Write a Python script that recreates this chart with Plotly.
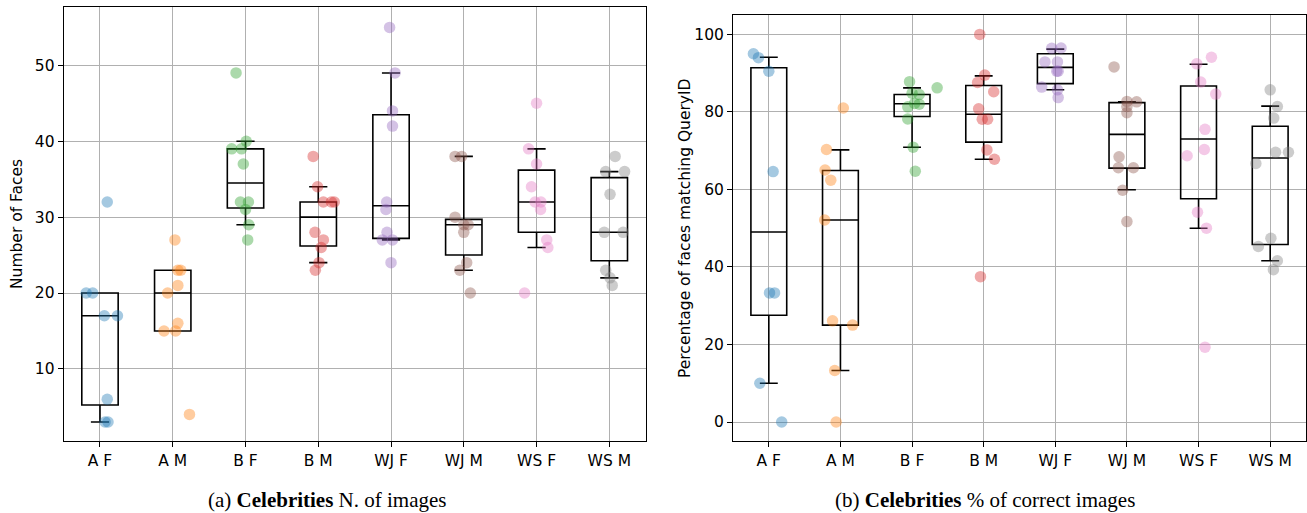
import plotly.graph_objects as go

# ---------------- data ----------------
categories = ["A F", "A M", "B F", "B M", "WJ F", "WJ M", "WS F", "WS M"]
colors = ["#1f77b4", "#ff7f0e", "#2ca02c", "#d62728",
          "#9467bd", "#8c564b", "#e377c2", "#7f7f7f"]

# (a) number of faces per celebrity
faces_points = [
    [20, 20, 32, 17, 17, 6, 3, 3],
    [27, 23, 23, 21, 20, 16, 15, 15, 4],
    [49, 40, 39, 39, 37, 32, 32, 31, 29, 27],
    [38, 34, 32, 32, 32, 28, 27, 26, 24, 23],
    [55, 49, 44, 42, 32, 31, 28, 27, 27, 24],
    [38, 38, 30, 29, 29, 28, 24, 23, 20],
    [45, 39, 37, 34, 32, 32, 31, 27, 26, 20],
    [38, 36, 36, 33, 28, 28, 23, 22, 21],
]
faces_jitter = [
    [-0.19, -0.10, 0.10, 0.06, 0.24, 0.10, 0.07, 0.11],
    [0.03, 0.07, 0.11, 0.07, -0.07, 0.07, -0.12, 0.04, 0.23],
    [-0.13, 0.01, -0.19, -0.055, -0.03, -0.07, 0.04, 0.0, 0.045, 0.03],
    [-0.07, -0.01, 0.07, 0.18, 0.22, -0.045, 0.07, 0.04, 0.01, -0.04],
    [-0.02, 0.055, 0.02, 0.02, -0.06, -0.07, -0.055, -0.12, 0.02, 0.0],
    [-0.12, -0.03, -0.12, 0.0, 0.06, 0.0, 0.04, -0.055, 0.09],
    [0.0, -0.11, 0.0, -0.07, -0.02, 0.06, 0.055, 0.14, 0.155, -0.165],
    [0.08, 0.21, -0.05, 0.01, -0.07, 0.19, -0.05, 0.01, 0.04],
]
faces_q1 = [5.25, 15, 31.2, 26.2, 27.2, 25, 28, 24.25]
faces_med = [17, 20, 34.5, 30, 31.5, 29, 32, 28]
faces_q3 = [20, 23, 39, 32, 43.5, 29.7, 36.2, 35.2]
faces_lo = [3, 15, 29, 24, 27, 23, 26, 22]
faces_hi = [20, 23, 40, 34, 49, 38, 39, 36]

# (b) percentage of faces matching QueryID
pct_points = [
    [95, 94, 90.5, 64.6, 33.3, 33.3, 10, 0],
    [81, 70.3, 65, 62.4, 52.1, 26.1, 25, 13.3, 0],
    [87.8, 86.2, 84.8, 84.5, 82.2, 81.3, 82.0, 78.2, 70.9, 64.7],
    [100, 89.5, 87.6, 85.2, 80.8, 78.1, 78.1, 70.2, 67.8, 37.5],
    [96.4, 96.5, 92.9, 92.9, 90.5, 90.5, 86.4, 85.7, 83.7],
    [91.6, 82.7, 82.6, 81.4, 79.8, 68.4, 65.6, 65.6, 59.8, 51.7],
    [94.1, 92.4, 87.7, 84.6, 75.5, 70.3, 68.7, 54.1, 50.0, 19.3],
    [85.7, 81.4, 78.4, 69.6, 69.6, 66.7, 47.4, 45.3, 41.6, 39.3],
]
pct_jitter = [
    [-0.215, -0.145, 0.0, 0.06, 0.01, 0.08, -0.125, 0.18],
    [0.04, -0.195, -0.215, -0.135, -0.22, -0.11, 0.17, -0.08, -0.06],
    [-0.035, 0.35, 0.0, 0.1, 0.035, -0.06, 0.1, -0.06, 0.015, 0.045],
    [-0.055, 0.015, -0.085, 0.14, -0.07, -0.02, 0.055, 0.045, 0.15, -0.045],
    [-0.05, 0.08, -0.145, 0.03, 0.02, 0.04, -0.19, 0.03, 0.04],
    [-0.18, 0.0, 0.135, 0.0, 0.0, -0.11, -0.12, 0.09, -0.06, 0.0],
    [0.18, -0.025, 0.03, 0.24, 0.09, 0.08, -0.16, -0.015, 0.11, 0.09],
    [0.0, 0.1, 0.05, 0.075, 0.255, -0.2, 0.01, -0.165, 0.1, 0.045],
]
pct_q1 = [27.55, 25.0, 78.8, 72.2, 87.3, 65.5, 57.6, 45.8]
pct_med = [49.0, 52.1, 82.1, 79.4, 91.5, 74.2, 73.0, 68.1]
pct_q3 = [91.4, 64.9, 84.5, 86.8, 95.0, 82.4, 86.7, 76.3]
pct_lo = [10.0, 13.3, 70.9, 67.8, 85.7, 59.9, 50.0, 41.6]
pct_hi = [94.1, 70.2, 86.2, 89.3, 96.2, 82.6, 92.3, 81.5]

faces_yticks = [10, 20, 30, 40, 50]
pct_yticks = [0, 20, 40, 60, 80, 100]

# ---------------- figure ----------------
W, H = 1307, 513
fig = go.Figure()
positions = list(range(len(categories)))


def add_panel(points, jitter, q1, med, q3, lo, hi, xa, ya):
    fig.add_trace(go.Box(
        x=positions, q1=q1, median=med, q3=q3,
        lowerfence=lo, upperfence=hi,
        width=0.5, whiskerwidth=0.5,
        line=dict(color="black", width=1.6),
        fillcolor="rgba(0,0,0,0)", boxpoints=False,
        showlegend=False, xaxis=xa, yaxis=ya, hoverinfo="skip"))
    for i, (vals, jit) in enumerate(zip(points, jitter)):
        fig.add_trace(go.Scatter(
            x=[i + j for j in jit], y=vals, mode="markers",
            marker=dict(size=11.5, color=colors[i], opacity=0.4,
                        line=dict(width=0)),
            showlegend=False, xaxis=xa, yaxis=ya, hoverinfo="skip"))


add_panel(faces_points, faces_jitter, faces_q1, faces_med, faces_q3,
          faces_lo, faces_hi, "x", "y")
add_panel(pct_points, pct_jitter, pct_q1, pct_med, pct_q3,
          pct_lo, pct_hi, "x2", "y2")

FS = 15.5
tickfont = dict(family="DejaVu Sans", size=FS, color="black")
common_x = dict(tickmode="array", tickvals=positions, ticktext=categories,
                range=[-0.5, 7.5], showline=True, mirror=True,
                linecolor="black", linewidth=1, ticks="outside", ticklen=5,
                tickcolor="black", showgrid=True, gridcolor="#b0b0b0",
                gridwidth=1, zeroline=False, tickfont=tickfont)
common_y = dict(showline=True, mirror=True, linecolor="black", linewidth=1,
                ticks="outside", ticklen=5, tickcolor="black",
                showgrid=True, gridcolor="#b0b0b0", gridwidth=1,
                zeroline=False, tickfont=tickfont, tickmode="array")

fig.update_layout(
    width=W, height=H,
    margin=dict(l=0, r=0, t=0, b=0),
    paper_bgcolor="white", plot_bgcolor="white",
    xaxis=dict(common_x, domain=[63.6 / W, 645.7 / W], anchor="y"),
    yaxis=dict(common_y, domain=[(H - 441) / H, (H - 7.3) / H],
               range=[0.5, 57.65], tickvals=faces_yticks, anchor="x"),
    xaxis2=dict(common_x, domain=[733 / W, 1306 / W], anchor="y2"),
    yaxis2=dict(common_y, domain=[(H - 441) / H, (H - 15) / H],
                range=[-4.9, 105.0], tickvals=pct_yticks, anchor="x2"),
)

annots = [
    dict(text="Number of Faces", x=17 / W, y=(H - 224) / H, textangle=-90,
         font=dict(family="DejaVu Sans", size=FS, color="black")),
    dict(text="Percentage of faces matching QueryID", x=685 / W,
         y=(H - 228) / H, textangle=-90,
         font=dict(family="DejaVu Sans", size=FS, color="black")),
    dict(text="(a) <b>Celebrities</b> N. of images", x=327 / W,
         y=(H - 500) / H,
         font=dict(family="Liberation Serif", size=21, color="black")),
    dict(text="(b) <b>Celebrities</b> % of correct images", x=985 / W,
         y=(H - 500) / H,
         font=dict(family="Liberation Serif", size=21, color="black")),
]
for a in annots:
    fig.add_annotation(xref="paper", yref="paper", showarrow=False,
                       xanchor="center", yanchor="middle", **a)

fig.write_html("out.html")
